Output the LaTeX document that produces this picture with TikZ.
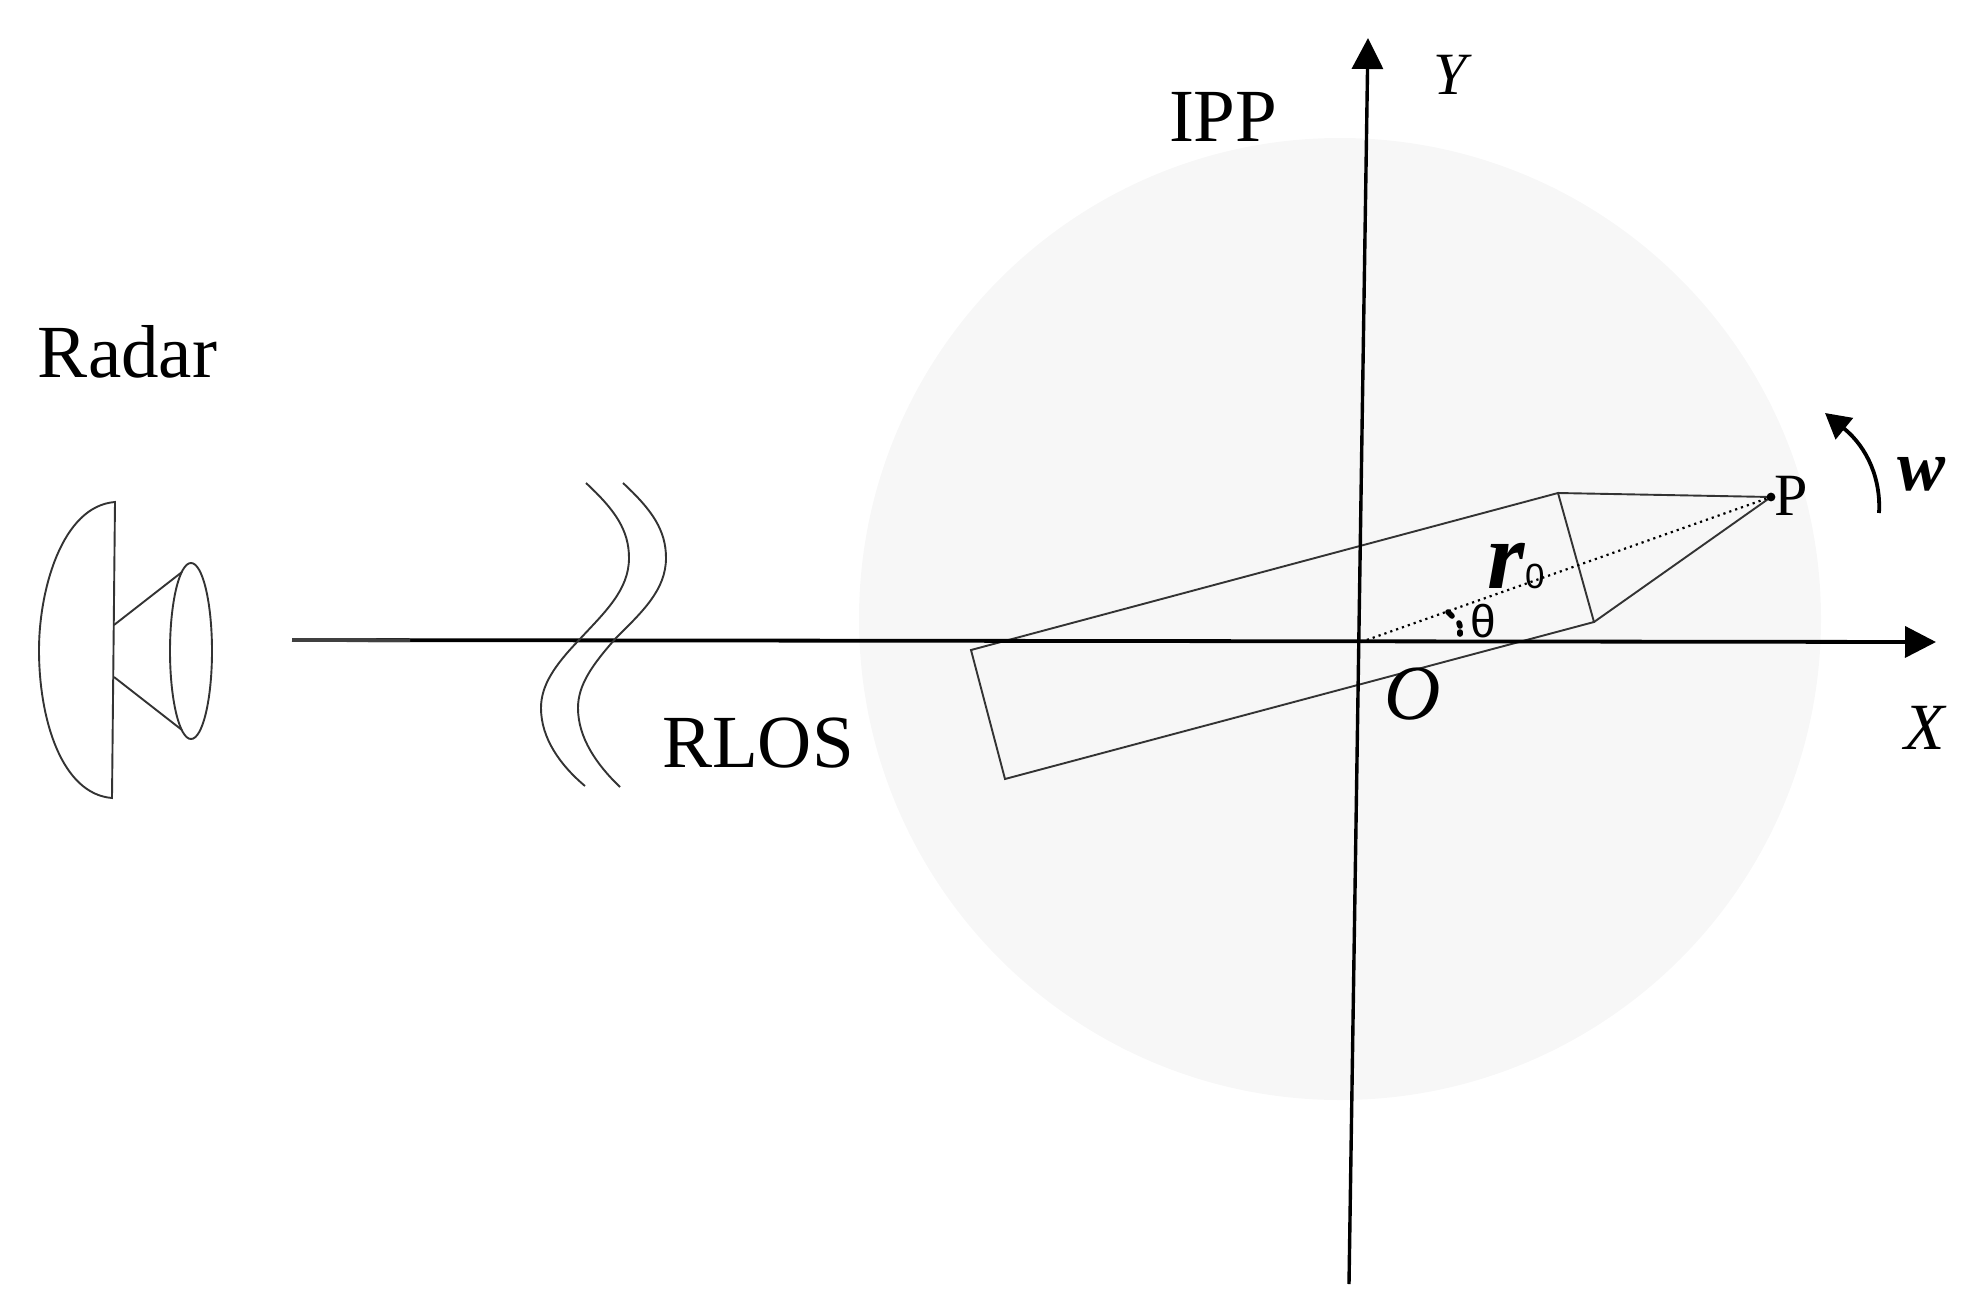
\documentclass[tikz,border=0pt]{standalone}
\usepackage{fontspec}
\setmainfont{Liberation Serif}
\newfontfamily\sansf{Liberation Sans}
\usetikzlibrary{arrows.meta}
\tikzset{
  thin line/.style={draw=black!80,line width=0.95pt,line join=miter},
  axis line/.style={draw=black,line width=1.9pt,-{Triangle[length=15.5pt,width=15.5pt]}},
  label/.style={inner sep=0pt,outer sep=0pt,anchor=base west,text=black},
}
\begin{document}
\begin{tikzpicture}[x=0.5pt,y=-0.5pt]
\useasboundingbox (0,0) rectangle (1967,1312);
% image plane disc
\fill[black!3] (1340,619) circle[radius=240.5pt];
% named points
\coordinate (xs) at (292,640);
\coordinate (xm) at (410,640.2);
\coordinate (xe) at (1936,642);
\coordinate (ys) at (1349,1284);
\coordinate (ye) at (1368,38);
\coordinate (O) at (1361,642);
\coordinate (P) at (1771,497);
\coordinate (a) at (971,650);
\coordinate (b) at (1558,493);
\coordinate (c) at (1594,622);
\coordinate (d) at (1005,779);
% ship
\draw[thin line] (a) -- (b) -- (c) -- (d) -- cycle;
\draw[thin line] (b) -- (P) -- (c);
\draw[draw=black,line width=1.1pt,dotted] (O) -- (P);
\fill (P) circle[radius=2.2pt];
% axes
\draw[axis line] (xs) -- (xe);
\draw[draw=black!75,line width=1.9pt] (xs) -- (xm);
\draw[axis line,line width=1.7pt] (ys) -- (ye);
% angle mark
\draw[line width=2.8pt,line cap=round] (1448,612) -- (1452,616);
\draw[line width=2.8pt,line cap=round] (1459,623) -- (1460,626);
\draw[line width=2.8pt,line cap=round] (1460,632) -- (1460,634);
% radar dish and horn
\draw[thin line] (115,502) .. controls (62,506) and (39,590) .. (39,650) .. controls (39,720) and (62,794) .. (112,798) -- cycle;
\draw[thin line] (191,651) ellipse[x radius=21,y radius=88];
\coordinate (h1) at (114,625);
\coordinate (h2) at (182,572);
\coordinate (h3) at (114,677);
\coordinate (h4) at (182,730);
\draw[thin line] (h1) -- (h2);
\draw[thin line] (h3) -- (h4);
% break marks
\draw[thin line] (586,483) .. controls (615,510) and (629,530) .. (629,558) .. controls (629,590) and (605,612) .. (579,640) .. controls (555,665) and (541,685) .. (541,708) .. controls (541,738) and (560,765) .. (585,786);
\draw[thin line] (623,483) .. controls (652,510) and (666,530) .. (666,558) .. controls (666,590) and (642,612) .. (616,638) .. controls (592,665) and (578,685) .. (578,708) .. controls (578,738) and (597,765) .. (620,787);
% rotation arrow
\coordinate (w1) at (1879,513);
\coordinate (w2) at (1825,413);
\draw[line width=1.9pt,-{Triangle[length=12.5pt,width=13.5pt]}] (w1) .. controls (1881,480) and (1868,448) .. (w2);
% labels
\node[label,font=\fontsize{37.5}{40}\selectfont] (radar) at (38,377) {Radar};
\node[label,font=\fontsize{37.5}{40}\selectfont] (rlos) at (662,767) {RLOS};
\node[label,font=\fontsize{37.5}{40}\selectfont] (ipp) at (1169,141) {IPP};
\node[label,font=\fontsize{30}{32}\itshape] (ylab) at (1433,94) {Y};
\node[label,font=\fontsize{33}{35}\itshape] (xlab) at (1904,749) {X};
\node[label,font=\fontsize{39}{41}\itshape] (olab) at (1384,719) {O};
\node[label,font=\fontsize{30}{32}\selectfont] (plab) at (1774,515) {P};
\node[label,font=\fontsize{36}{38}\bfseries\itshape] (wlab) at (1897,490) {w};
\node[label,font=\fontsize{48}{50}\bfseries\itshape] (rlab) at (1487,588) {r};
\node[label,font=\fontsize{17.5}{19}\sansf] (zero) at (1525,588) {0};
\node[label,font=\fontsize{23}{25}\sansf] (theta) at (1470,637) {θ};
\end{tikzpicture}
\end{document}
